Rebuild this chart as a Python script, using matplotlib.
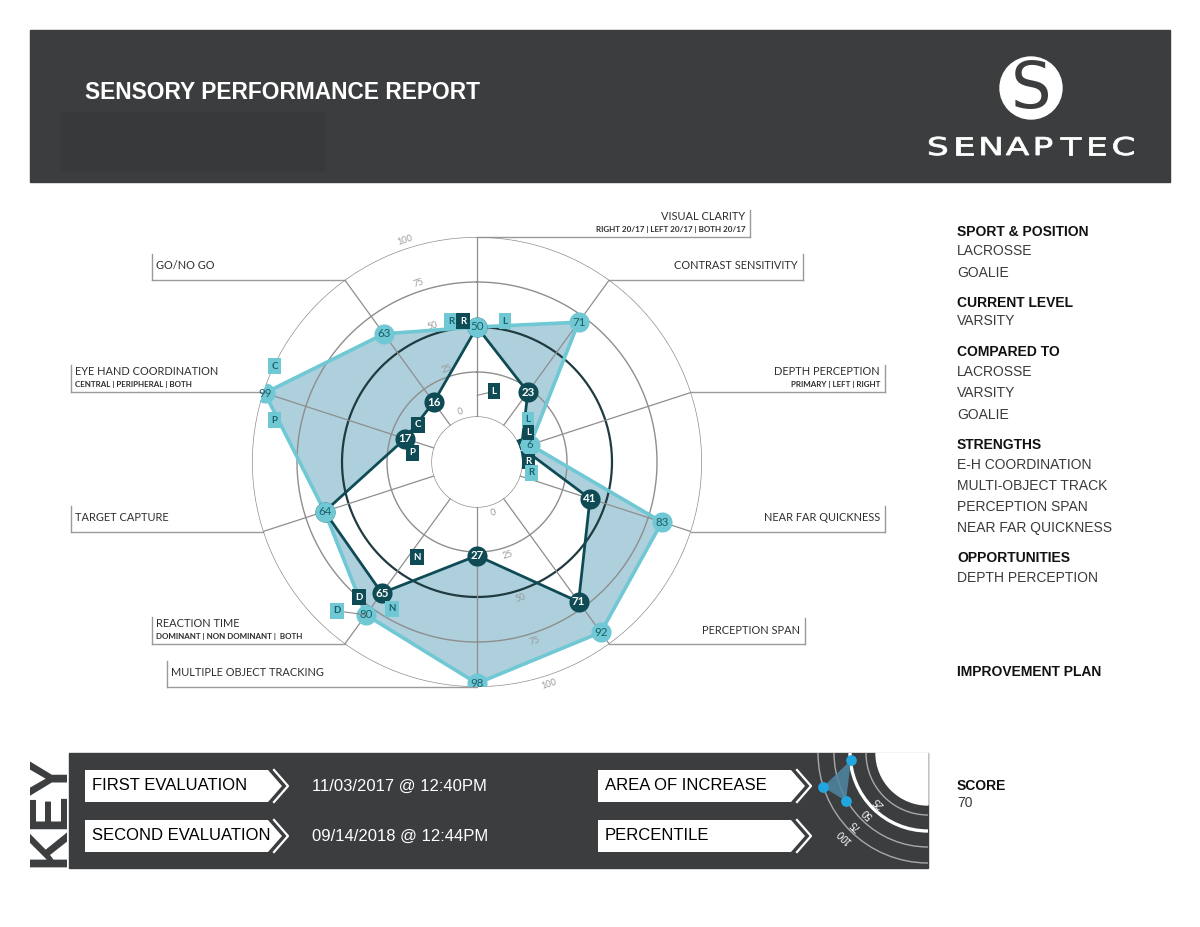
import numpy as np
import matplotlib
matplotlib.use("Agg")
import matplotlib.pyplot as plt
from matplotlib.patches import Rectangle, Polygon, Circle, Wedge, Arc, PathPatch
from matplotlib.textpath import TextPath
from matplotlib.font_manager import FontProperties
from matplotlib.transforms import Affine2D

# ---- data ----
categories = ["VISUAL CLARITY", "CONTRAST SENSITIVITY", "DEPTH PERCEPTION", "NEAR FAR QUICKNESS",
              "PERCEPTION SPAN", "MULTIPLE OBJECT TRACKING", "REACTION TIME", "TARGET CAPTURE",
              "EYE HAND COORDINATION", "GO/NO GO"]
subtitles = ["RIGHT 20/17 | LEFT 20/17 | BOTH 20/17", "", "PRIMARY | LEFT | RIGHT", "", "", "",
             "DOMINANT | NON DOMINANT |  BOTH", "", "CENTRAL | PERIPHERAL | BOTH", ""]
first_eval = [50, 71, 6, 83, 92, 98, 80, 64, 99, 63]
second_eval = [50, 23, 1, 41, 71, 27, 65, 64, 17, 16]
ring_ticks = [0, 25, 50, 75, 100]

# sub-measure tags: (series, axis, value, letter, dx px, dy px, connector)
tags = [
    ("first", 0, 50, "R", -26, -6, False),
    ("second", 0, 50, "R", -14, -6, False),
    ("first", 0, 50, "L", 28, -6, False),
    ("second", 0, 12, "L", 17, -4, True),
    ("first", 2, 6, "L", -2, -25, False),
    ("second", 2, 1, "L", 7, -15, False),
    ("second", 2, 1, "R", 7, 14, False),
    ("first", 2, 6, "R", 1, 28, False),
    ("first", 8, 99, "C", 10, -27, False),
    ("first", 8, 99, "P", 10, 27, False),
    ("second", 8, 17, "C", 13, -14, False),
    ("second", 8, 17, "P", 7, 14, False),
    ("first", 6, 80, "D", -29, -4, True),
    ("first", 6, 80, "N", 26, -6, False),
    ("second", 6, 65, "D", -23, 4, False),
    ("second", 6, 65, "N", 35, -36, False),
]

side_labels = [("SPORT & POSITION", True), ("LACROSSE", False), ("GOALIE", False),
               ("CURRENT LEVEL", True), ("VARSITY", False),
               ("COMPARED TO", True), ("LACROSSE", False), ("VARSITY", False), ("GOALIE", False),
               ("STRENGTHS", True), ("E-H COORDINATION", False), ("MULTI-OBJECT TRACK", False),
               ("PERCEPTION SPAN", False), ("NEAR FAR QUICKNESS", False),
               ("OPPORTUNITIES", True), ("DEPTH PERCEPTION", False),
               ("IMPROVEMENT PLAN", True), ("SCORE", True), ("70", False)]
side_y = [232, 251, 273, 303, 321, 352, 372, 393, 415, 445, 465, 486, 507, 528, 558, 578,
          672, 786, 803]

eval_names = ["FIRST EVALUATION", "SECOND EVALUATION"]
eval_dates = ["11/03/2017 @ 12:40PM", "09/14/2018 @ 12:44PM"]
key_names = ["AREA OF INCREASE", "PERCENTILE"]
key_ring_labels = ["25", "50", "75", "100"]

# ---- style ----
W, H = 1200, 927
CX, CY, R = 477, 462, 225
DARK_BAND = "#3b3d3f"
LIGHT = "#6fc8d4"
LIGHT_TXT = "#1b5f69"
DARK = "#0f4b55"
FILL = "#aecfdc"
GRID = "#8e8e8e"
LBL = "#2e2e2e"
CHART_FONT = ["Lato", "DejaVu Sans"]
PAGE_FONT = ["Liberation Sans", "DejaVu Sans"]

fig = plt.figure(figsize=(W / 100, H / 100), dpi=100)
bg = fig.add_axes([0, 0, 1, 1])
bg.set_xlim(0, W)
bg.set_ylim(H, 0)
bg.axis("off")

# header
bg.add_patch(Rectangle((30, 30), 1140, 152, color=DARK_BAND, zorder=0))
bg.add_patch(Rectangle((60, 112), 265, 58, color="#38393b", zorder=0))
bg.text(85, 92, "SENSORY PERFORMANCE REPORT", color="white", fontsize=16.4, fontweight="bold",
        family=PAGE_FONT, ha="left", va="center")
bg.add_patch(Circle((1031, 88), 31, color="white", zorder=1))
bg.text(1031, 90, "S", color=DARK_BAND, fontsize=46, family=["DejaVu Sans"], ha="center",
        va="center", zorder=2)
logo_prop = FontProperties(family="DejaVu Sans")
for k, ch in enumerate("SENAPTEC"):
    tp = TextPath((0, 0), ch, size=24.5, prop=logo_prop)
    bb = tp.get_extents()
    tr = Affine2D().translate(-(bb.x0 + bb.x1) / 2, 0).scale(1.4, -1).translate(938 + k * 26.5, 155)
    bg.add_patch(PathPatch(tr.transform_path(tp), fc="white", ec="white", lw=0.6, zorder=2))

# label leader lines and texts
n = len(categories)
ang = np.deg2rad(np.arange(n) * 360 / n)
bar_x = [750, 803, 885, 885, 805, 167, 152, 71, 71, 152]
for i in range(n):
    ox = CX + R * np.sin(ang[i])
    oy = CY - R * np.cos(ang[i])
    bg.plot([ox, bar_x[i]], [oy, oy], color="#9a9a9a", lw=1, zorder=1)
    top = oy - 27 if subtitles[i] else oy - 26
    bg.plot([bar_x[i], bar_x[i]], [top, oy], color="#9a9a9a", lw=1, zorder=1)
    right = i <= 4
    tx = bar_x[i] - 5 if right else bar_x[i] + 4
    ha = "right" if right else "left"
    if subtitles[i]:
        bg.text(tx, oy - 21, categories[i], fontsize=7.9, color=LBL, family=CHART_FONT,
                ha=ha, va="center")
        bg.text(tx, oy - 8, subtitles[i], fontsize=5.8, color=LBL, family=CHART_FONT,
                fontweight="bold", ha=ha, va="center")
    else:
        bg.text(tx, oy - 14, categories[i], fontsize=7.9, color=LBL, family=CHART_FONT,
                ha=ha, va="center")

# right panel
for (txt, bold), y in zip(side_labels, side_y):
    bg.text(957, y, txt, fontsize=10, family=PAGE_FONT,
            fontweight="bold" if bold else "normal",
            color="#111111" if bold else "#3a3a3a", ha="left", va="center")

# key band
bg.add_patch(Rectangle((69, 753), 859, 115, color=DARK_BAND, zorder=0))
bg.text(50, 811, "KEY", rotation=90, fontsize=39, fontweight="bold", color=DARK_BAND,
        family=PAGE_FONT, ha="center", va="center")


def arrow_box(x0, y0, x1, label):
    y1 = y0 + 32
    ym = (y0 + y1) / 2
    bg.add_patch(Polygon([(x0, y0), (x1 - 14, y0), (x1, ym), (x1 - 14, y1), (x0, y1)],
                         closed=True, fc="white", ec="none", zorder=2))
    bg.plot([x1 - 8, x1 + 6, x1 - 8], [y0, ym, y1], color="white", lw=1.6, zorder=2)
    bg.text(x0 + 7, ym, label, fontsize=12, color="black", family=PAGE_FONT,
            ha="left", va="center", zorder=3)


for k in range(2):
    y0 = 770 + 50 * k
    arrow_box(85, y0, 282, eval_names[k])
    bg.text(312, y0 + 16, eval_dates[k], fontsize=12, color="white", family=PAGE_FONT,
            ha="left", va="center")
    arrow_box(598, y0, 805, key_names[k])

# percentile icon in the key
kc = (928, 753)
bg.add_patch(Wedge(kc, 52, 90, 180, color="white", zorder=2))
for rr, col, lw in [(62, "#a8a8a8", 1.0), (78, "white", 2.4), (94, "#a8a8a8", 1.0),
                    (110, "#a8a8a8", 1.0)]:
    bg.add_patch(Arc(kc, 2 * rr, 2 * rr, theta1=90, theta2=180, color=col, lw=lw, zorder=2))
for lab, rr in zip(key_ring_labels, [70, 86, 102, 118]):
    bg.text(kc[0] - rr * 0.707, kc[1] + rr * 0.707, lab, rotation=135, fontsize=7,
            color="white", family=PAGE_FONT, ha="center", va="center", zorder=3)
icon = [(851, 760), (823, 787), (846, 801)]
bg.add_patch(Polygon(icon, closed=True, fc="#4f88a3", ec="none", alpha=0.85, zorder=3))
bg.scatter([p[0] for p in icon], [p[1] for p in icon], s=45, color="#22a6e0", zorder=4)

# ---- radar (polar axes) ----
ax = fig.add_axes([(CX - R) / W, (H - CY - R) / H, 2 * R / W, 2 * R / H], projection="polar")
ax.set_theta_zero_location("N")
ax.set_theta_direction(-1)
ax.set_ylim(0, 100)
ax.set_rorigin(-25)
ax.axis("off")
ax.patch.set_alpha(0)

th = np.append(ang, ang[0])
f_r = np.append(first_eval, first_eval[0])
s_r = np.append(second_eval, second_eval[0])

# shaded band between the two evaluations
ax.fill(np.concatenate([th, th[::-1]]), np.concatenate([f_r, s_r[::-1]]),
        color=FILL, zorder=1, lw=0)

full = np.linspace(0, 2 * np.pi, 400)
for t in ring_ticks:
    if t == 50:
        ax.plot(full, np.full_like(full, t), color="#1f3b40", lw=1.6, zorder=2)
    else:
        ax.plot(full, np.full_like(full, t), color=GRID, lw=1.0, zorder=2)
for a in ang:
    ax.plot([a, a], [0, 100], color=GRID, lw=0.9, zorder=2)
for a_deg in [342, 162]:
    for t in ring_ticks:
        ax.text(np.deg2rad(a_deg), t + 4.5, str(t), rotation=18, fontsize=6.5, color="#9a9a9a",
                family=CHART_FONT, ha="center", va="center", zorder=2)

ax.plot(th, f_r, color=LIGHT, lw=2.6, zorder=3, solid_joinstyle="miter")
ax.plot(th, s_r, color=DARK, lw=2.0, zorder=4)

ax.scatter(ang, second_eval, s=210, color=DARK, zorder=5, lw=0)
for a, v in zip(ang, second_eval):
    ax.text(a, v, str(v), fontsize=8.3, color="white", fontweight="bold", family=CHART_FONT,
            ha="center", va="center", zorder=6)
ax.scatter(ang, first_eval, s=210, color=LIGHT, zorder=7, lw=0)
for a, v in zip(ang, first_eval):
    ax.text(a, v, str(v), fontsize=8.3, color=LIGHT_TXT, family=CHART_FONT,
            ha="center", va="center", zorder=8)

for series, idx, val, letter, dx, dy, conn in tags:
    fc, tc = (LIGHT, LIGHT_TXT) if series == "first" else (DARK, "white")
    ax.annotate(letter, xy=(ang[idx], val), xytext=(dx, -dy), textcoords="offset pixels",
                ha="center", va="center", fontsize=7, fontweight="bold", color=tc,
                family=CHART_FONT, zorder=9, annotation_clip=False,
                bbox=dict(boxstyle="square,pad=0.35", fc=fc, ec="none"),
                arrowprops=dict(arrowstyle="-", color="#8a8a8a", lw=0.8, shrinkA=0, shrinkB=0)
                if conn else None)

fig.savefig("out.png", dpi=100)
